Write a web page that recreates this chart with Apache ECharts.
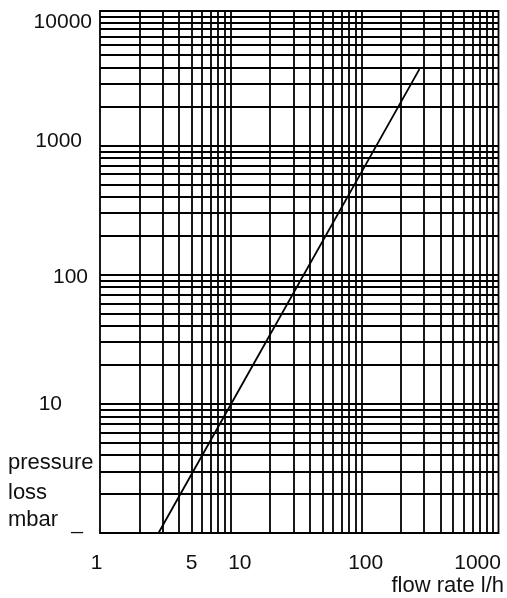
<!DOCTYPE html>
<html>
<head>
<meta charset="utf-8">
<title>pressure loss</title>
<script src="https://cdn.jsdelivr.net/npm/echarts@6/dist/echarts.min.js"></script>
<style>
html, body { margin: 0; padding: 0; background: #fff; }
#chart { width: 507px; height: 598px; }
</style>
</head>
<body>
<div id="chart"></div>
<script>
// flow rate (l/h) on x, pressure loss (mbar) on y, both log scale
const flowLabels = [1, 5, 10, 100, 1000]
const pressureLabels = [1, 10, 100, 1000, 10000]

const flowGrid = [
  2, 3, 4, 5, 6, 7, 8, 9, 10,
  20, 30, 40, 50, 60, 70, 80, 90, 100,
  200, 300, 400, 500, 600, 700, 800, 900, 1000
]
const pressureGrid = [
  2, 3, 4, 5, 6, 7, 8, 9, 10,
  20, 30, 40, 50, 60, 70, 80, 90, 100,
  200, 300, 400, 500, 600, 700, 800, 900, 1000,
  2000, 3000, 4000, 5000, 6000, 7000, 8000, 9000, 10000
]

// the characteristic line
const curveFlow = [2.8, 276]
const curvePressure = [1, 3900]

const font = 'Liberation Sans, Arial, sans-serif'
const black = '#000'

// nudges so the tick labels sit where the drawing has them
const xRich = {
  x1: { padding: [0, 7, 0, 0] },
  x5: { padding: [0, 0, 0, 0] },
  x10: { padding: [0, 0, 0, 18] },
  x100: { padding: [0, 0, 0, 8] },
  x1000: { padding: [0, 30, 0, 0] }
}
const yRich = {
  y1: { padding: [0, 9, 20, 0] },
  y10: { padding: [0, 30, 0, 0] },
  y100: { padding: [5, 4, 0, 0] },
  y1000: { padding: [0, 10, 8, 0] },
  y10000: { padding: [12, 0, 0, 0] }
}
for (const k in xRich) Object.assign(xRich[k], { fontSize: 21, fontFamily: font, color: '#111' })
for (const k in yRich) Object.assign(yRich[k], { fontSize: 21, fontFamily: font, color: '#111' })

const chart = echarts.init(document.getElementById('chart'))

chart.setOption({
  animation: false,
  backgroundColor: '#fff',
  grid: {
    left: 100,
    top: 11,
    right: 8.5,
    bottom: 65,
    show: true,
    borderColor: black,
    borderWidth: 1.8
  },
  xAxis: {
    type: 'log',
    logBase: 10,
    min: 1,
    max: 1110,
    axisLine: { show: false },
    axisTick: { show: false },
    splitLine: { show: false },
    axisLabel: {
      customValues: flowLabels,
      margin: 20,
      fontSize: 21,
      fontFamily: font,
      color: '#111',
      formatter: v => '{x' + v + '|' + v + '}',
      rich: xRich
    }
  },
  yAxis: {
    type: 'log',
    logBase: 10,
    min: 1,
    max: 11000,
    axisLine: { show: false },
    axisTick: { show: false },
    splitLine: { show: false },
    axisLabel: {
      customValues: pressureLabels,
      margin: 8,
      fontSize: 21,
      fontFamily: font,
      color: '#111',
      formatter: v => '{y' + v + '|' + (v === 1 ? '_' : v) + '}',
      rich: yRich
    }
  },
  series: [{
    type: 'line',
    data: curveFlow.map((f, i) => [f, curvePressure[i]]),
    showSymbol: false,
    lineStyle: { color: black, width: 1.8 },
    markLine: {
      silent: true,
      symbol: 'none',
      label: { show: false },
      lineStyle: { color: black, width: 1.8, type: 'solid' },
      data: flowGrid.map(v => ({ xAxis: v })).concat(pressureGrid.map(v => ({ yAxis: v })))
    }
  }],
  graphic: [
    { type: 'text', left: 8, top: 452, style: { text: 'pressure', font: '22px ' + font, fill: '#111' } },
    { type: 'text', left: 8, top: 482, style: { text: 'loss', font: '22px ' + font, fill: '#111' } },
    { type: 'text', left: 8, top: 509, style: { text: 'mbar', font: '22px ' + font, fill: '#111' } },
    { type: 'text', right: 3, top: 575, style: { text: 'flow rate l/h', font: '22px ' + font, fill: '#111' } }
  ]
})
</script>
</body>
</html>
